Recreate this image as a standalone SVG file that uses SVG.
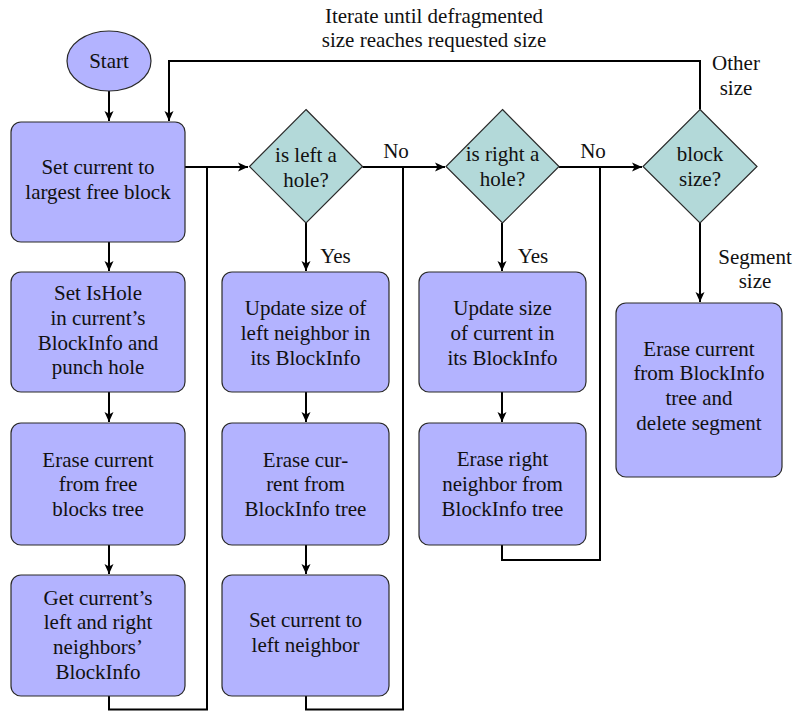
<svg xmlns="http://www.w3.org/2000/svg" width="796" height="711" viewBox="0 0 796 711">
  <style>
    text { font-family: "Liberation Serif", "DejaVu Serif", serif; font-size: 21px; fill: #111; text-anchor: middle; }
    .box { fill: #b3b3ff; stroke: #2a2a2a; stroke-width: 1.2; }
    .dec { fill: #b3d9d9; stroke: #2a2a2a; stroke-width: 1.2; }
    .wire { fill: none; stroke: #000; stroke-width: 2; }
    .arrow { fill: none; stroke: #000; stroke-width: 2; marker-end: url(#tip); }
  </style>
  <defs>
    <marker id="tip" markerUnits="userSpaceOnUse" markerWidth="12" markerHeight="12" refX="10" refY="5" orient="auto">
      <path d="M0,0.5 L10,5 L0,9.5 L2.5,5 Z" fill="#000"/>
    </marker>
  </defs>

  <!-- connectors -->
  <g id="connectors">
    <path class="arrow" d="M109,91 V121"/>
    <path class="arrow" d="M700,109.5 V61 H169 V121"/>
    <path class="arrow" d="M185,167 H248"/>
    <path class="wire" d="M109,696 V709.5 H207 V167"/>
    <path class="arrow" d="M362.5,167 H445"/>
    <path class="wire" d="M306,696 V709.5 H403 V167"/>
    <path class="arrow" d="M559,167 H642"/>
    <path class="wire" d="M502,545 V560 H600 V167"/>
    <path class="arrow" d="M306,223 V271"/>
    <path class="arrow" d="M306,392 V422"/>
    <path class="arrow" d="M306,545 V574"/>
    <path class="arrow" d="M109,242 V271"/>
    <path class="arrow" d="M109,392 V422"/>
    <path class="arrow" d="M109,545 V574"/>
    <path class="arrow" d="M502,223 V271"/>
    <path class="arrow" d="M502,392 V422"/>
    <path class="arrow" d="M700,223 V302"/>
    <text x="434" y="23">Iterate until defragmented</text>
    <text x="434" y="47">size reaches requested size</text>
    <text x="736" y="70">Other</text>
    <text x="736" y="95">size</text>
    <text x="396" y="158">No</text>
    <text x="593" y="158">No</text>
    <text x="335.5" y="263">Yes</text>
    <text x="533" y="263">Yes</text>
    <text x="755" y="264">Segment</text>
    <text x="755" y="288">size</text>
  </g>

  <g id="start">
    <ellipse class="box" cx="109" cy="61" rx="42" ry="30"/>
    <text x="109" y="68">Start</text>
  </g>

  <g id="set-largest">
    <rect class="box" x="11" y="122" width="174" height="120" rx="10"/>
    <text x="98" y="174">Set current to</text>
    <text x="98" y="199">largest free block</text>
  </g>

  <g id="punch-hole">
    <rect class="box" x="11" y="272" width="174" height="120" rx="10"/>
    <text x="98" y="300">Set IsHole</text>
    <text x="98" y="325">in current’s</text>
    <text x="98" y="350">BlockInfo and</text>
    <text x="98" y="374">punch hole</text>
  </g>

  <g id="erase-free">
    <rect class="box" x="11" y="423" width="174" height="122" rx="10"/>
    <text x="98" y="467">Erase current</text>
    <text x="98" y="491">from free</text>
    <text x="98" y="516">blocks tree</text>
  </g>

  <g id="get-neighbors">
    <rect class="box" x="11" y="575" width="174" height="121" rx="10"/>
    <text x="98" y="605">Get current’s</text>
    <text x="98" y="629">left and right</text>
    <text x="98" y="654">neighbors’</text>
    <text x="98" y="679">BlockInfo</text>
  </g>

  <g id="left-hole">
    <polygon class="dec" points="306,109.5 362.5,166.5 306,223 249.5,166.5"/>
    <text x="306" y="162">is left a</text>
    <text x="306" y="187">hole?</text>
  </g>

  <g id="update-left">
    <rect class="box" x="222" y="272" width="167" height="120" rx="10"/>
    <text x="305.5" y="315">Update size of</text>
    <text x="305.5" y="340">left neighbor in</text>
    <text x="305.5" y="365">its BlockInfo</text>
  </g>

  <g id="erase-current-info">
    <rect class="box" x="222" y="423" width="167" height="122" rx="10"/>
    <text x="305.5" y="467">Erase cur-</text>
    <text x="305.5" y="491">rent from</text>
    <text x="305.5" y="516">BlockInfo tree</text>
  </g>

  <g id="move-left">
    <rect class="box" x="222" y="575" width="167" height="121" rx="10"/>
    <text x="305.5" y="627">Set current to</text>
    <text x="305.5" y="652">left neighbor</text>
  </g>

  <g id="right-hole">
    <polygon class="dec" points="502.5,109.5 559,166.5 502.5,223 446,166.5"/>
    <text x="502.5" y="161">is right a</text>
    <text x="502.5" y="186">hole?</text>
  </g>

  <g id="update-current">
    <rect class="box" x="419" y="272" width="167" height="120" rx="10"/>
    <text x="502.5" y="315">Update size</text>
    <text x="502.5" y="340">of current in</text>
    <text x="502.5" y="365">its BlockInfo</text>
  </g>

  <g id="erase-right">
    <rect class="box" x="419" y="423" width="167" height="122" rx="10"/>
    <text x="502.5" y="466">Erase right</text>
    <text x="502.5" y="491">neighbor from</text>
    <text x="502.5" y="516">BlockInfo tree</text>
  </g>

  <g id="block-size">
    <polygon class="dec" points="700,109.5 757,166.5 700,223 643,166.5"/>
    <text x="700" y="161">block</text>
    <text x="700" y="186">size?</text>
  </g>

  <g id="delete-segment">
    <rect class="box" x="616" y="303" width="166" height="174" rx="10"/>
    <text x="699" y="356">Erase current</text>
    <text x="699" y="380">from BlockInfo</text>
    <text x="699" y="405">tree and</text>
    <text x="699" y="430">delete segment</text>
  </g>
</svg>
